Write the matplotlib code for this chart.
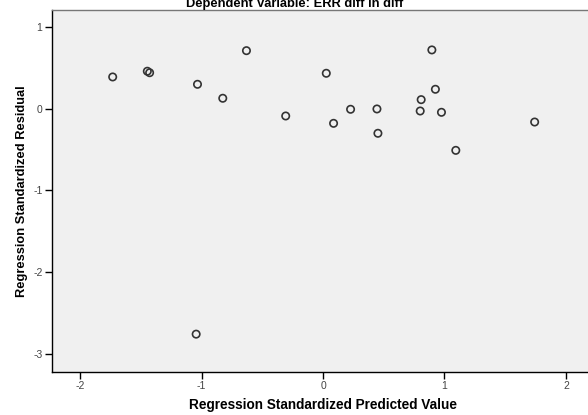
import matplotlib
matplotlib.use("Agg")
import matplotlib.pyplot as plt

plt.rcParams['font.family'] = ['Liberation Sans', 'DejaVu Sans']

# Standardized predicted values and standardized residuals
predicted = [-1.731, -1.446, -1.427, -0.630, -1.033, -0.825, 0.027, -0.307,
             0.087, 0.227, 0.444, 0.452, 0.896, 0.925, 0.808, 0.800,
             0.975, 1.093, 1.742, -1.044]
residual = [0.390, 0.460, 0.442, 0.712, 0.300, 0.129, 0.435, -0.088,
            -0.178, -0.006, -0.002, -0.300, 0.721, 0.239, 0.112, -0.027,
            -0.043, -0.509, -0.162, -2.760]

x_ticks = [-2, -1, 0, 1, 2]
y_ticks = [1, 0, -1, -2, -3]

W, H = 588, 415
fig = plt.figure(figsize=(W / 100, H / 100), dpi=100)
fig.patch.set_facecolor('white')

left, right, top, bottom = 52.3, 593.7, 10.0, 371.7
ax = fig.add_axes([left / W, 1 - bottom / H, (right - left) / W, (bottom - top) / H])
ax.set_facecolor('#f0f0f0')

ax.scatter(predicted, residual, s=28, facecolors='none', edgecolors='#333333',
           linewidths=1.2, zorder=3)

ax.set_xlim(-2.228, 2.228)
ax.set_ylim(-3.22, 1.21)
ax.set_xticks(x_ticks)
ax.set_yticks(y_ticks)
ax.set_xticklabels([str(t) for t in x_ticks])
ax.set_yticklabels([str(t) for t in y_ticks])
ax.tick_params(axis='both', direction='out', length=5, width=1, color='black',
               labelsize=7.5, labelcolor='#444444', pad=2)

for side in ('left', 'bottom'):
    ax.spines[side].set_color('black')
    ax.spines[side].set_linewidth(1)
ax.spines['top'].set_color('#777777')
ax.spines['top'].set_linewidth(1)
ax.spines['right'].set_visible(False)

ax.set_xlabel('Regression Standardized Predicted Value', fontsize=9.8,
              fontweight='bold', labelpad=5)
ax.set_ylabel('Regression Standardized Residual', fontsize=9.3,
              fontweight='bold', labelpad=4)

fig.text(295 / W, 1 - 6.5 / H, 'Dependent Variable: ERR diff in diff',
         ha='center', va='baseline', fontsize=9.3, fontweight='bold')

fig.savefig('out.png', dpi=100)
